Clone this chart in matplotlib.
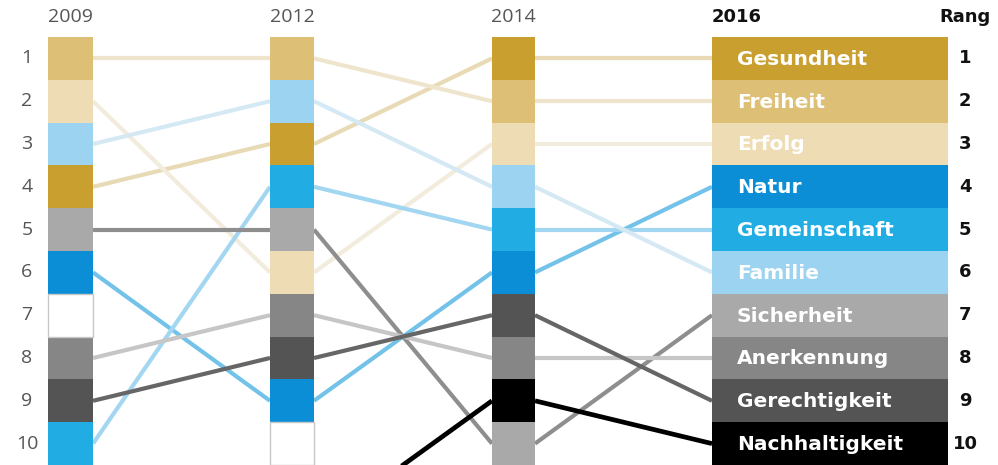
import matplotlib
matplotlib.use("Agg")
import matplotlib.pyplot as plt

# Werte aus der Grafik: Rang je Jahr (None = nicht in den Top 10 sichtbar)
categories = ["Gesundheit", "Freiheit", "Erfolg", "Natur", "Gemeinschaft",
              "Familie", "Sicherheit", "Anerkennung", "Gerechtigkeit", "Nachhaltigkeit"]
years = ["2009", "2012", "2014", "2016"]
rang_2009 = [4, 1, 2, 6, 10, 3, 5, 8, 9, None]
rang_2012 = [3, 1, 6, 9, 4, 2, 5, 7, 8, 12]  # Nachhaltigkeit ausserhalb der Top 10
rang_2014 = [1, 2, 3, 6, 5, 4, 10, 8, 7, 9]
rang_2016 = [1, 2, 3, 4, 5, 6, 7, 8, 9, 10]
rank_labels = [str(i) for i in range(1, 11)]

box_colors = ["#C9A030", "#DDBF76", "#EDDCB4", "#0B8ED5", "#21ADE3",
              "#9CD3F1", "#A9A9A9", "#868686", "#545454", "#000000"]
line_colors = ["#E8DAB5", "#EEE5CC", "#F2ECDD", "#73C2E9", "#A3D6F1",
               "#D5E9F5", "#8E8E8E", "#C6C6C6", "#666666", "#000000"]

all_ranks = [rang_2009, rang_2012, rang_2014, rang_2016]

# Layout (Pixel-Koordinaten in x)
col_left = [48, 270, 492, 712]
col_right = [93, 314, 535, 948]

plt.rcParams["font.family"] = ["Open Sans", "DejaVu Sans"]
label_font = ["DejaVu Sans"]

fig = plt.figure(figsize=(9.98, 4.65), dpi=100)
ax = fig.add_axes([0, 0, 1, 1])
ax.set_xlim(0, 998)
top = 0.5 - 37 / 42.8
ax.set_ylim(10.5, top)
ax.axis("off")

# Verbindungslinien
for i in range(len(years) - 1):
    r_a = all_ranks[i]
    r_b = all_ranks[i + 1]
    for k in range(len(categories)):
        if r_a[k] is None or r_b[k] is None:
            continue
        lw = 3.4 if categories[k] == "Nachhaltigkeit" else 3.0
        ax.plot([col_right[i], col_left[i + 1]], [r_a[k], r_b[k]],
                color=line_colors[k], lw=lw, solid_capstyle="butt", zorder=1)

# Saeulen
for i in range(len(years)):
    ranks = all_ranks[i]
    left = col_left[i]
    width = col_right[i] - col_left[i]
    used = []
    for k in range(len(categories)):
        r = ranks[k]
        if r is None or r > 10:
            continue
        used.append(r)
        ax.bar(left, 1, bottom=r - 0.5, width=width, align="edge",
               color=box_colors[k], linewidth=0, zorder=3)
    for r in range(1, 11):
        if r not in used:
            ax.bar(left, 1, bottom=r - 0.5, width=width, align="edge",
                   color="white", edgecolor="#C8C8C8", linewidth=1.0, zorder=3)

# Beschriftungen 2016
for k in range(len(categories)):
    ax.text(737, rang_2016[k] + 0.02, categories[k], color="white", fontsize=14.5,
            fontweight="bold", va="center", ha="left", zorder=4, family=label_font)

# Rang-Spalte
for r in range(10):
    ax.text(965, r + 1, rank_labels[r], color="#111111", fontsize=13,
            fontweight="bold", va="center", ha="center", family=label_font)
    ax.text(27, r + 1, rank_labels[r], color="#555555", fontsize=14,
            va="center", ha="center")

head_y = top + 17 / 42.8
for i in range(3):
    ax.text((col_left[i] + col_right[i]) / 2, head_y, years[i], color="#555555",
            fontsize=14, va="center", ha="center")
ax.text(col_left[3], head_y, years[3], color="#111111", fontsize=13,
        fontweight="bold", va="center", ha="left", family=label_font)
ax.text(965, head_y, "Rang", color="#111111", fontsize=13,
        fontweight="bold", va="center", ha="center", family=label_font)

fig.savefig("out.png", dpi=100)
